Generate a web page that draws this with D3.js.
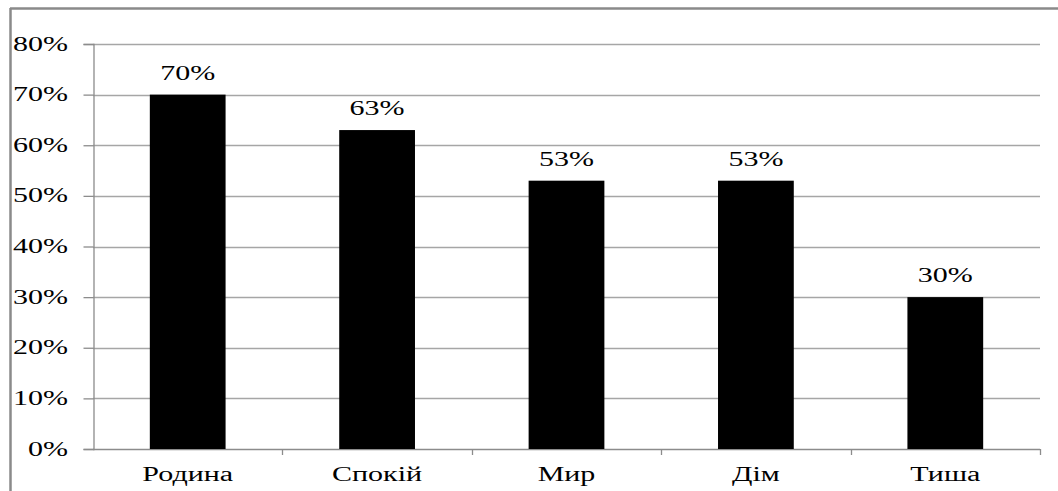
<!DOCTYPE html>
<html>
<head>
<meta charset="utf-8">
<script src="https://cdn.jsdelivr.net/npm/d3@7/dist/d3.min.js"></script>
<style>
  html, body { margin: 0; padding: 0; background: #fff; }
  svg { display: block; }
</style>
</head>
<body>
<svg id="chart" width="1058" height="491"></svg>
<script>
// Chart data
const categories = ["Родина", "Спокій", "Мир", "Дім", "Тиша"];
const values = [0.70, 0.63, 0.53, 0.53, 0.30];
const yTicks = [0, 0.1, 0.2, 0.3, 0.4, 0.5, 0.6, 0.7, 0.8];

const svg = d3.select("#chart");
const W = 1058, H = 491;
const plot = { left: 93, right: 1040, top: 44, bottom: 449 };
const STRETCH = 1.5; // wide, horizontally stretched lettering

// Outer frame (top and left edges visible)
svg.append("line").attr("x1", 10).attr("x2", W).attr("y1", 8.5).attr("y2", 8.5)
  .attr("stroke", "#8a8a8a").attr("stroke-width", 2.5);
svg.append("line").attr("x1", 10.5).attr("x2", 10.5).attr("y1", 8).attr("y2", H)
  .attr("stroke", "#8a8a8a").attr("stroke-width", 2.5);

const x = d3.scaleBand().domain(categories)
  .range([plot.left, plot.right]).paddingInner(0.6).paddingOuter(0.3);
const y = d3.scaleLinear().domain([0, 0.8]).range([plot.bottom, plot.top]);

const fmt = d3.format(".0%");

// Serif text widened with textLength
function label(g, tx, ty, str, anchor, size) {
  const t = g.append("text")
    .attr("x", tx).attr("y", ty)
    .attr("text-anchor", anchor)
    .attr("font-family", "Liberation Serif")
    .attr("font-size", size)
    .attr("fill", "#000")
    .text(str);
  const w = t.node().getComputedTextLength();
  t.attr("textLength", w * STRETCH).attr("lengthAdjust", "spacingAndGlyphs");
  return t;
}

// Gridlines
svg.append("g").selectAll("line").data(yTicks.filter(d => d > 0)).join("line")
  .attr("x1", plot.left).attr("x2", plot.right)
  .attr("y1", d => Math.round(y(d)) + 0.5).attr("y2", d => Math.round(y(d)) + 0.5)
  .attr("stroke", "#a6a6a6").attr("stroke-width", 1.3);

// Y axis (line and ticks), labels drawn separately
const yAxis = svg.append("g").attr("transform", `translate(${plot.left + 0.5},0)`)
  .call(d3.axisLeft(y).tickValues(yTicks).tickFormat("").tickSize(10));
yAxis.select(".domain").attr("stroke", "#8c8c8c").attr("stroke-width", 1.3);
yAxis.selectAll(".tick line").attr("stroke", "#8c8c8c").attr("stroke-width", 1.3);
const yLab = svg.append("g");
yTicks.forEach(t => label(yLab, 68, y(t) + 6.5, fmt(t), "end", 20));

// X axis line and ticks between categories
const bounds = d3.range(categories.length + 1).map(i => plot.left + i * (plot.right - plot.left) / categories.length);
svg.append("line").attr("x1", plot.left).attr("x2", plot.right)
  .attr("y1", plot.bottom + 0.5).attr("y2", plot.bottom + 0.5)
  .attr("stroke", "#8c8c8c").attr("stroke-width", 1.3);
svg.append("g").selectAll("line").data(bounds.slice(1)).join("line")
  .attr("x1", d => Math.round(d) + 0.5).attr("x2", d => Math.round(d) + 0.5)
  .attr("y1", plot.bottom).attr("y2", plot.bottom + 6)
  .attr("stroke", "#8c8c8c").attr("stroke-width", 1.3);

// Category labels
const xLab = svg.append("g");
categories.forEach(c => label(xLab, x(c) + x.bandwidth() / 2, 481, c, "middle", 20));

// Bars
svg.append("g").selectAll("rect").data(values).join("rect")
  .attr("x", (d, i) => x(categories[i])).attr("width", x.bandwidth())
  .attr("y", d => y(d)).attr("height", d => plot.bottom - y(d))
  .attr("fill", "#000");

// Value labels
const vLab = svg.append("g");
values.forEach((v, i) => label(vLab, x(categories[i]) + x.bandwidth() / 2, y(v) - 15, fmt(v), "middle", 20));
</script>
</body>
</html>
